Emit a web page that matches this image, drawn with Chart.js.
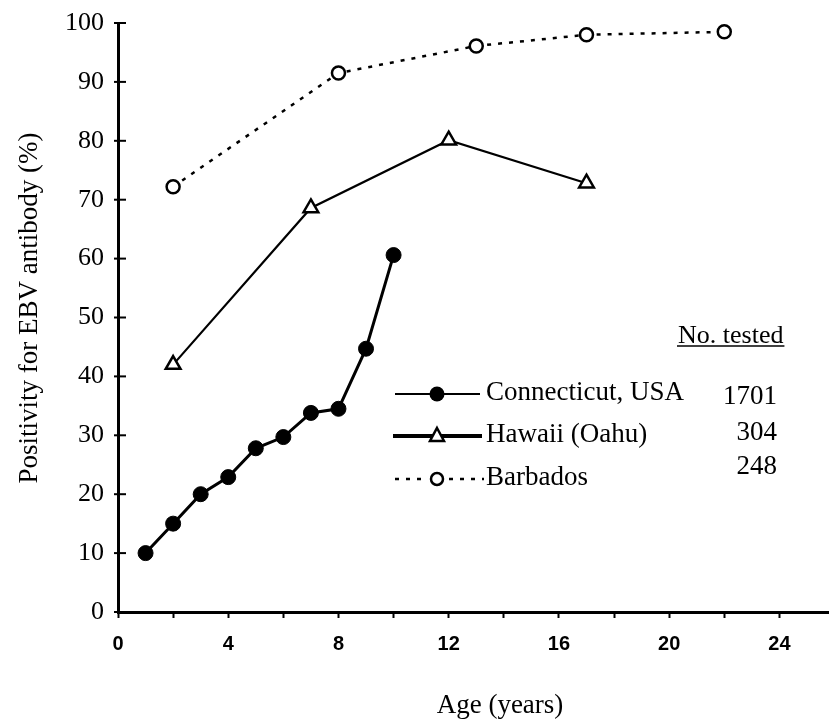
<!DOCTYPE html>
<html><head><meta charset="utf-8">
<script src="https://cdn.jsdelivr.net/npm/chart.js@4.4.1/dist/chart.umd.min.js"></script>
<style>html,body{margin:0;padding:0;background:#fff}#wrap{width:829px;height:724px}</style>
</head><body><div id="wrap"><canvas id="c" width="829" height="724"></canvas></div>
<script>
// ---- data ----
const ctAges = [1, 2, 3, 4, 5, 6, 7, 8, 9, 10];
const ctVals = [10, 15, 20, 22.9, 27.8, 29.7, 33.8, 34.5, 44.7, 60.6];
const hiAges = [2, 7, 12, 17];
const hiVals = [42, 68.6, 80.1, 72.8];
const bbAges = [2, 8, 13, 17, 22];
const bbVals = [72.2, 91.5, 96.1, 98, 98.5];
const seriesNames = ['Connecticut, USA', 'Hawaii (Oahu)', 'Barbados'];
const nTested = ['1701', '304', '248'];
const xTickValues = [0, 2, 4, 6, 8, 10, 12, 14, 16, 18, 20, 22, 24];
const xLabelValues = [0, 4, 8, 12, 16, 20, 24];
const yTickValues = [0, 10, 20, 30, 40, 50, 60, 70, 80, 90, 100];
const xTitle = 'Age (years)';
const yTitle = 'Positivity for EBV antibody (%)';
const legendTitle = 'No. tested';

const toXY = (xs, ys) => xs.map((x, i) => ({x: x, y: ys[i]}));
const SERIF = '"Liberation Serif", "Times New Roman", serif';

const overlay = {
  id: 'overlay',
  afterDraw(chart) {
    const ctx = chart.ctx;
    const ys = chart.scales.y;
    ctx.save();
    // inward y ticks
    ctx.strokeStyle = '#000'; ctx.lineWidth = 2;
    yTickValues.forEach(v => {
      const y = ys.getPixelForValue(v);
      ctx.beginPath(); ctx.moveTo(ys.right - 4, y); ctx.lineTo(ys.right + 8, y); ctx.stroke();
    });
    ctx.fillStyle = '#000';
    // titles
    ctx.font = '27px ' + SERIF;
    ctx.textAlign = 'center'; ctx.textBaseline = 'middle';
    ctx.fillText(xTitle, 500, 706);
    ctx.save();
    ctx.translate(30, 308); ctx.rotate(-Math.PI / 2);
    ctx.fillText(yTitle, 0, 0);
    ctx.restore();
    // legend header
    ctx.font = '26px ' + SERIF;
    ctx.textAlign = 'left';
    ctx.fillText(legendTitle, 678, 336);
    const w = ctx.measureText(legendTitle).width;
    ctx.lineWidth = 1.6;
    ctx.beginPath(); ctx.moveTo(677, 346); ctx.lineTo(678 + w + 1, 346); ctx.stroke();
    // legend rows
    const rows = [394, 436, 479];
    const cx = 437;
    // row 1
    ctx.lineWidth = 1.8; ctx.setLineDash([]);
    ctx.beginPath(); ctx.moveTo(395, rows[0]); ctx.lineTo(480, rows[0]); ctx.stroke();
    ctx.beginPath(); ctx.arc(cx, rows[0], 7.5, 0, Math.PI * 2); ctx.fill();
    // row 2
    ctx.lineWidth = 4;
    ctx.beginPath(); ctx.moveTo(393, rows[1]); ctx.lineTo(482, rows[1]); ctx.stroke();
    ctx.lineWidth = 2.5; ctx.fillStyle = '#fff';
    ctx.beginPath(); ctx.moveTo(cx, rows[1] - 8); ctx.lineTo(cx + 7, rows[1] + 5); ctx.lineTo(cx - 7, rows[1] + 5); ctx.closePath();
    ctx.fill(); ctx.stroke();
    // row 3
    ctx.lineWidth = 2.5; ctx.setLineDash([4, 7]);
    ctx.beginPath(); ctx.moveTo(395, rows[2]); ctx.lineTo(427, rows[2]); ctx.stroke();
    ctx.beginPath(); ctx.moveTo(449, rows[2]); ctx.lineTo(484, rows[2]); ctx.stroke();
    ctx.setLineDash([]);
    ctx.beginPath(); ctx.arc(cx, rows[2], 6, 0, Math.PI * 2); ctx.fill(); ctx.stroke();
    ctx.fillStyle = '#000';
    ctx.font = '27px ' + SERIF;
    ctx.textAlign = 'left';
    seriesNames.forEach((n, i) => ctx.fillText(n, 486, rows[i] - 1));
    ctx.textAlign = 'right';
    const numY = [397, 433, 467];
    nTested.forEach((n, i) => ctx.fillText(n, 777, numY[i]));
    ctx.restore();
  }
};

new Chart(document.getElementById('c'), {
  type: 'line',
  data: {
    datasets: [
      {label: seriesNames[0], data: toXY(ctAges, ctVals), borderColor: '#000', borderWidth: 3,
       pointStyle: 'circle', pointRadius: 7.5, pointBackgroundColor: '#000', pointBorderColor: '#000', pointBorderWidth: 1, tension: 0},
      {label: seriesNames[1], data: toXY(hiAges, hiVals), borderColor: '#000', borderWidth: 2.2,
       pointStyle: 'triangle', pointRadius: 8.5, pointBackgroundColor: '#fff', pointBorderColor: '#000', pointBorderWidth: 2.5, tension: 0},
      {label: seriesNames[2], data: toXY(bbAges, bbVals), borderColor: '#000', borderWidth: 2.5, borderDash: [4, 7],
       pointStyle: 'circle', pointRadius: 6.5, pointBackgroundColor: '#fff', pointBorderColor: '#000', pointBorderWidth: 2.5, tension: 0}
    ]
  },
  options: {
    responsive: false, animation: false, devicePixelRatio: 1,
    layout: {autoPadding: false, padding: {top: 23, right: 0, left: 0, bottom: 0}},
    plugins: {legend: {display: false}, tooltip: {enabled: false}, title: {display: false}},
    scales: {
      x: {
        type: 'linear', min: 0, max: 25.8,
        afterBuildTicks: s => { s.ticks = xTickValues.map(v => ({value: v})); },
        afterFit: s => { s.height = 112; s.paddingRight = 0; s.paddingLeft = 0; },
        ticks: {
          callback: v => xLabelValues.includes(v) ? String(v) : '',
          font: {family: '"Liberation Sans", Arial, sans-serif', size: 20, weight: 'bold'},
          color: '#000', padding: 14, maxRotation: 0, autoSkip: false
        },
        grid: {drawOnChartArea: false, tickLength: 6, tickColor: '#000', tickWidth: 2},
        border: {color: '#000', width: 3}
      },
      y: {
        min: 0, max: 100,
        afterBuildTicks: s => { s.ticks = yTickValues.map(v => ({value: v})); },
        afterFit: s => { s.width = 118; s.paddingTop = 0; s.paddingBottom = 0; },
        ticks: {font: {family: SERIF, size: 26}, color: '#000', padding: 14},
        grid: {drawOnChartArea: false, drawTicks: false},
        border: {color: '#000', width: 3}
      }
    }
  },
  plugins: [overlay]
});
</script></body></html>
